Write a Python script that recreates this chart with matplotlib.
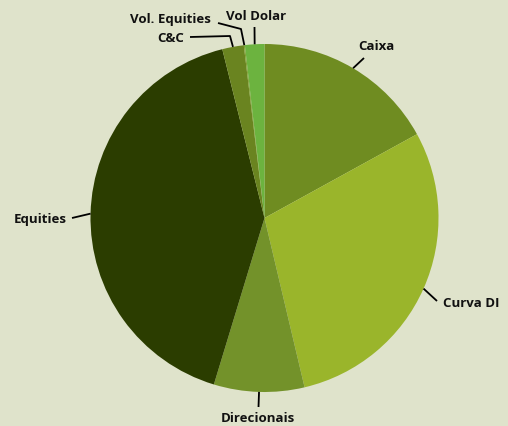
import numpy as np
import matplotlib.pyplot as plt

labels = ['Caixa', 'Curva DI', 'Direcionais', 'Equities', 'C&C', 'Vol. Equities', 'Vol Dolar']
values = [17.0, 29.3, 8.4, 41.4, 2.0, 0.1, 1.8]
colors = ['#6f8c21', '#9ab52b', '#73922a', '#2b3d00', '#6a8420', '#7fa032', '#6cb33f']

H = 427
cx, cy, r = 264.5, H - 219, 174

fig = plt.figure(figsize=(5.08, 4.27), dpi=100)
fig.patch.set_facecolor('#dfe3cb')
ax = fig.add_axes([0, 0, 1, 1])

wedges, _ = ax.pie(values, colors=colors, startangle=90, counterclock=False,
                   center=(cx, cy), radius=r, wedgeprops=dict(linewidth=0))
# pie resets the limits, so set them after
ax.set_xlim(0, 508)
ax.set_ylim(0, H)
ax.set_aspect('equal')
ax.axis('off')

# label text position (pixel coords, y from top), alignment, leader bends
layout = {
    'Caixa':         ((376, 47), 'center', [(364, 59)]),
    'Curva DI':      ((443, 304), 'left', [(437, 302)]),
    'Direcionais':   ((258, 419), 'center', [(258.5, 408)]),
    'Equities':      ((67, 220), 'right', [(72, 219)]),
    'C&C':           ((184, 39), 'right', [(190, 38), (230, 37)]),
    'Vol. Equities': ((211, 19), 'right', [(218, 24), (241, 30)]),
    'Vol Dolar':     ((256, 16), 'center', [(254.5, 28)]),
}

for w, lab in zip(wedges, labels):
    ang = np.deg2rad((w.theta1 + w.theta2) / 2)
    ex, ey = cx + r * np.cos(ang), cy + r * np.sin(ang)
    (tx, ty), ha, pts = layout[lab]
    xs = [p[0] for p in pts] + [ex]
    ys = [H - p[1] for p in pts] + [ey]
    ax.plot(xs, ys, color='black', lw=1.3, solid_capstyle='butt')
    ax.text(tx, H - ty, lab, ha=ha, va='center', fontsize=9.5,
            fontweight='bold', family=['Open Sans', 'DejaVu Sans'], color='#111111')

fig.savefig('out.png', dpi=100, facecolor=fig.get_facecolor())
